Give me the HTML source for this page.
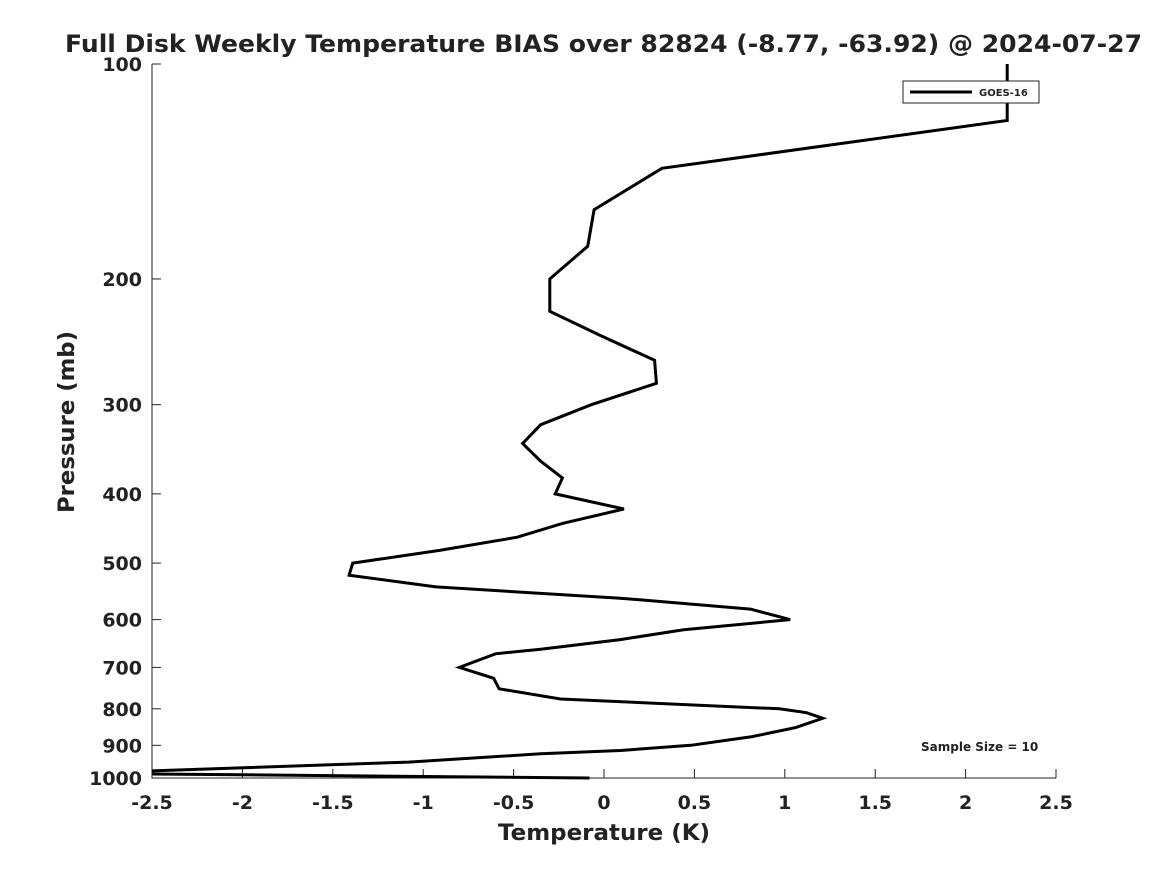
<!DOCTYPE html>
<html><head><meta charset="utf-8"><style>
body{margin:0;background:#fff;font-family:"Liberation Sans","DejaVu Sans",sans-serif}
svg text{font-family:"DejaVu Sans","Liberation Sans",sans-serif;font-weight:bold;fill:#222}
</style></head><body>
<svg id="c" width="1167" height="875"></svg>
<script>
const pressures=[100,120,140,160,180,200,222,240,260,280,300,320,340,360,380,400,420,440,460,480,500,520,540,560,580,600,620,640,660,670,700,725,750,775,800,810,825,850,875,900,915,925,950,985,1000];
const temps=[2.23,2.23,0.32,-0.055,-0.09,-0.30,-0.30,-0.02,0.28,0.29,-0.07,-0.35,-0.45,-0.35,-0.23,-0.27,0.11,-0.23,-0.48,-0.91,-1.39,-1.41,-0.93,0.09,0.81,1.03,0.44,0.09,-0.35,-0.60,-0.80,-0.61,-0.58,-0.24,0.97,1.12,1.21,1.06,0.82,0.48,0.09,-0.35,-1.08,-2.9,-0.08];
const xTicks=[-2.5,-2,-1.5,-1,-0.5,0,0.5,1,1.5,2,2.5];
const xTickLabels=["-2.5","-2","-1.5","-1","-0.5","0","0.5","1","1.5","2","2.5"];
const yTicks=[100,200,300,400,500,600,700,800,900,1000];
const sampleSize=10;
const L=152,R=1056,T=64,B=778;
const xs=v=>L+(v+2.5)/5*(R-L);
const ys=p=>T+Math.log10(p/100)*(B-T);
const svg=document.getElementById('c');const NS='http://www.w3.org/2000/svg';
function mk(t,a,txt){const e=document.createElementNS(NS,t);for(const k in a)e.setAttribute(k,a[k]);if(txt!=null)e.textContent=txt;svg.appendChild(e);return e;}
const defs=mk('defs',{});const cp=document.createElementNS(NS,'clipPath');cp.setAttribute('id','clip');
const cr=document.createElementNS(NS,'rect');cr.setAttribute('x',L);cr.setAttribute('y',T);cr.setAttribute('width',R-L);cr.setAttribute('height',B-T+3);cp.appendChild(cr);defs.appendChild(cp);
let e;
e=mk('text',{x:65,y:52,'font-size':24,fill:'#000',textLength:1077,lengthAdjust:'spacingAndGlyphs'},'Full Disk Weekly Temperature BIAS over 82824 (-8.77, -63.92) @ 2024-07-27');

e=mk('path',{d:`M${L},${T}V${B}H${R}`,stroke:'#222',fill:'none','stroke-width':1});

xTicks.forEach((v,i)=>{const x=xs(v);
mk('line',{x1:x,x2:x,y1:B,y2:B-9,stroke:'#222'});
e=mk('text',{x:x,y:809,'text-anchor':'middle','font-size':19},xTickLabels[i]);
});
yTicks.forEach(p=>{const y=ys(p);
mk('line',{x1:L,x2:L+9,y1:y,y2:y,stroke:'#222'});
e=mk('text',{x:142,y:y+7,'text-anchor':'end','font-size':19},String(p));
});
e=mk('text',{x:498,y:840,'font-size':22,textLength:212,lengthAdjust:'spacingAndGlyphs'},'Temperature (K)');

e=mk('text',{x:0,y:0,'font-size':22,textLength:182,lengthAdjust:'spacingAndGlyphs',transform:'translate(74,513) rotate(-90)'},'Pressure (mb)');

const d=pressures.map((p,i)=>(i?'L':'M')+xs(temps[i]).toFixed(1)+','+ys(p).toFixed(1)).join('');
e=mk('path',{d:d,stroke:'#000','stroke-width':3,fill:'none','clip-path':'url(#clip)','stroke-linejoin':'miter'});

e=mk('rect',{x:903,y:81,width:136,height:22,fill:'#fff',stroke:'#222','stroke-width':1});

mk('line',{x1:910,x2:972,y1:92,y2:92,stroke:'#000','stroke-width':3});
e=mk('text',{x:979,y:96,'font-size':10,fill:'#000'},'GOES-16');

e=mk('text',{x:921,y:751,'font-size':12,fill:'#000'},'Sample Size = '+sampleSize);

</script>
</body></html>
